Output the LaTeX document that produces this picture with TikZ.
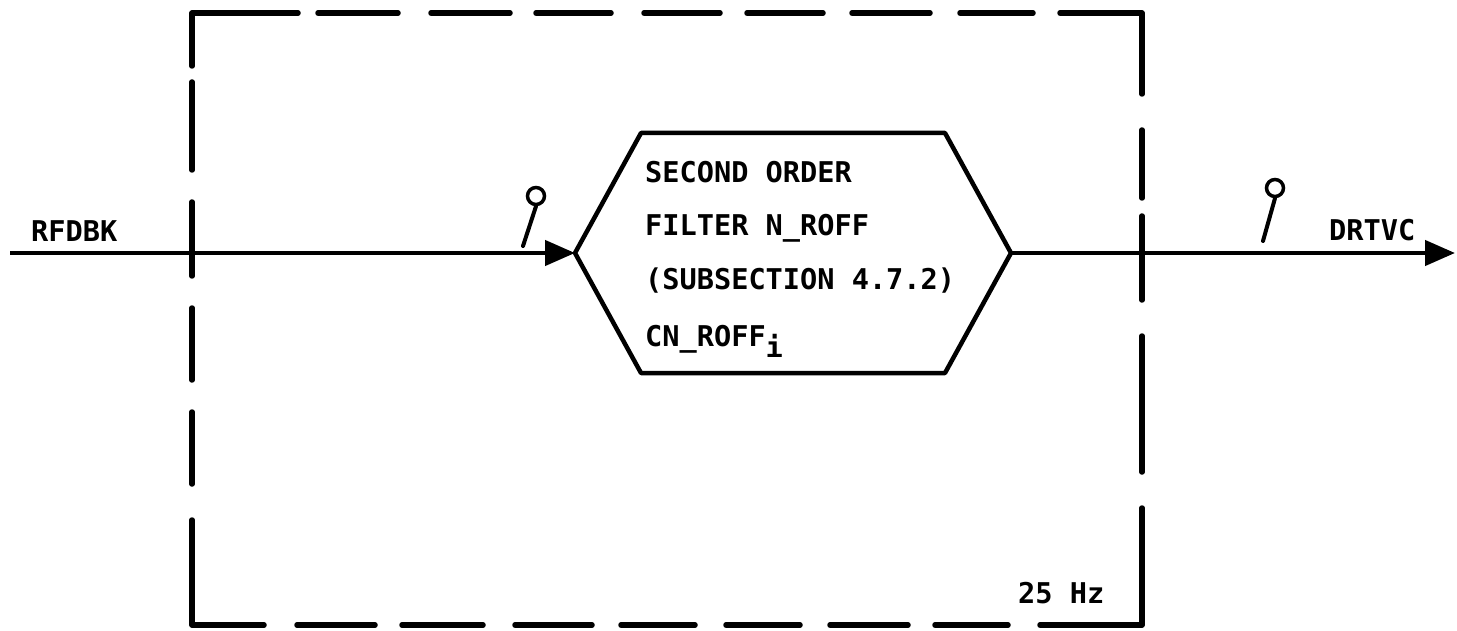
\documentclass[tikz,border=0pt]{standalone}
\usepackage{fontspec}
\setmainfont{DejaVu Sans Mono}
\usetikzlibrary{arrows.meta}
\tikzset{
  frame/.style={line width=5.5pt,line cap=round,line join=round},
  wire/.style={line width=4.5pt},
  hexa/.style={line width=4.5pt,line join=round},
  flow/.style={wire,-{Triangle[length=30pt,width=25pt]}},
  lbl/.style={inner sep=0pt,anchor=base west,font=\fontsize{28.6}{34}\selectfont\bfseries},
  tick/.style={line width=4pt,line cap=round},
  ring/.style={draw,circle,line width=3.5pt,minimum size=17pt,inner sep=0pt},
}
\begin{document}
\begin{tikzpicture}[x=1pt,y=-1pt]
\useasboundingbox (0,0) rectangle (1457,631);
% dashed frame
\draw[frame] (192,66) -- (192,13) -- (298,13);
\foreach \a/\b in {318/398,431/510,536/611,644/720,747/823,852/930,960/1033}
  \draw[frame] (\a,13) -- (\b,13);
\draw[frame] (1060,13) -- (1142,13) -- (1142,94);
\foreach \a/\b in {130/198,216/300,336/472}
  \draw[frame] (1142,\a) -- (1142,\b);
\draw[frame] (1142,508) -- (1142,625) -- (1040,625);
\foreach \a/\b in {935/1008,830/908,726/800,621/695,515/592,402/483,297/375}
  \draw[frame] (\a,625) -- (\b,625);
\draw[frame] (264,625) -- (192,625) -- (192,520);
\foreach \a/\b in {412/484,308/380,202/276,82/170}
  \draw[frame] (192,\a) -- (192,\b);
% hexagon
\coordinate (hL) at (575,253);
\coordinate (hR) at (1011,253);
\draw[hexa] (hL) -- (641,133) -- (945,133) -- (hR) -- (945,373) -- (641,373) -- cycle;
\node[lbl] (t1) at (645,183) {SECOND ORDER};
\node[lbl] (t2) at (645,236) {FILTER N\_ROFF};
\node[lbl] (t3) at (645,290) {(SUBSECTION 4.7.2)};
\node[lbl] (t4) at (645,346) {CN\_ROFF\raisebox{-11pt}{i}};
% input / output
\coordinate (in) at (10,253);
\coordinate (out) at (1455,253);
\draw[flow] (in) -- (hL);
\draw[flow] (hR) -- (out);
\node[lbl] (rf) at (31,242) {RFDBK};
\node[lbl] (dr) at (1329,241) {DRTVC};
\node[lbl] (hz) at (1018,603) {25 Hz};
% signal markers
\node[ring] (c1) at (536,196) {};
\coordinate (m1a) at (523,246);
\draw[tick] (m1a) -- (c1.south);
\node[ring] (c2) at (1275,188) {};
\coordinate (m2a) at (1263,241);
\draw[tick] (m2a) -- (c2.south);
\end{tikzpicture}
\end{document}
